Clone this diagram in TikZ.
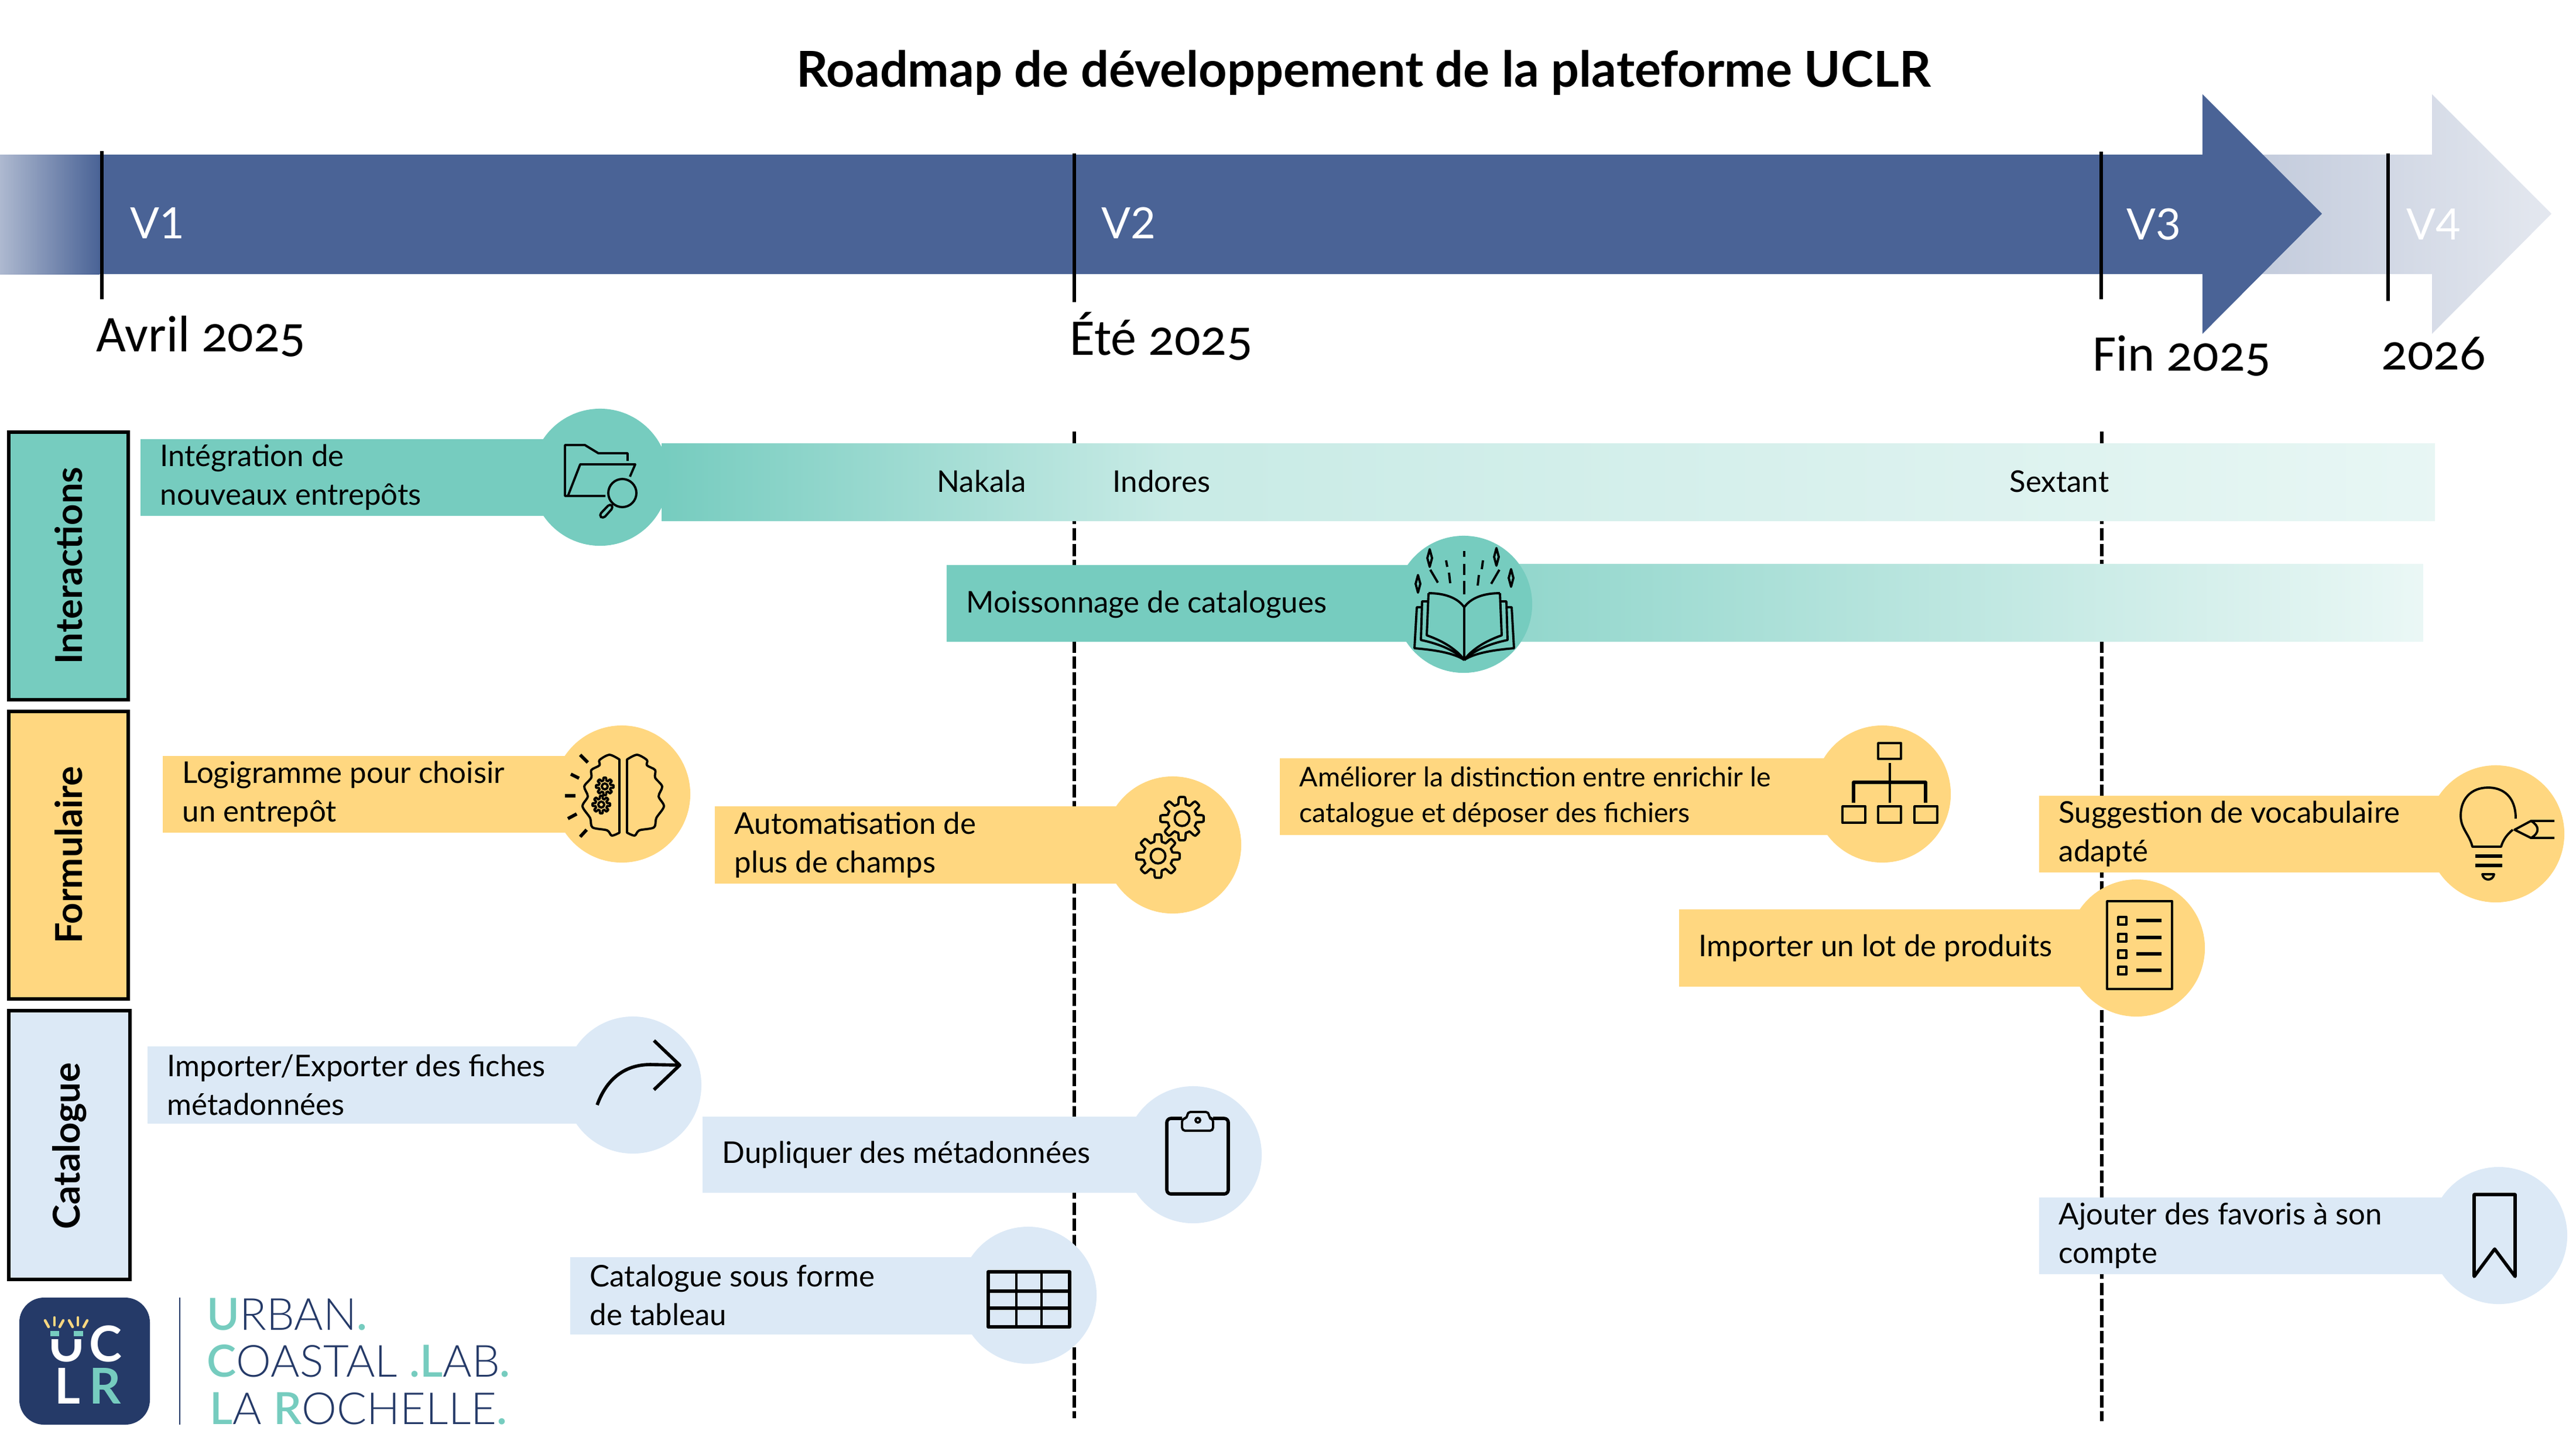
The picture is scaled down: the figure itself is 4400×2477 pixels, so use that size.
\documentclass[tikz,border=0pt]{standalone}
\usepackage{fontspec}
\setmainfont{Lato}
\newfontfamily\datefont[Numbers=OldStyle]{Carlito}
\newfontfamily\logofont{Lato Light}
\usetikzlibrary{arrows.meta,positioning}
\definecolor{roadblue}{HTML}{4A6396}
\definecolor{roadteal}{HTML}{76CCBF}
\definecolor{roadyellow}{HTML}{FFD780}
\definecolor{roadsky}{HTML}{DCE9F6}
\definecolor{logonavy}{HTML}{253A68}
\tikzset{
	catbox/.style={draw=black,line width=1.7pt},
	catlabel/.style={rotate=90,font=\bfseries\fontsize{18}{20}\selectfont},
	version/.style={anchor=west,text=white,font=\fontsize{21}{24}\selectfont},
	datelabel/.style={anchor=base west,font=\datefont\fontsize{25}{28}\selectfont},
	tick/.style={line width=1.9pt,black},
	milestone/.style={line width=1.8pt,dash pattern=on 6pt off 1.8pt},
	spot/.style={circle,minimum size=2.34cm,inner sep=0pt},
	tag/.style={anchor=west,align=left,inner sep=0pt,font=\fontsize{14.5}{18.7}\selectfont},
	icon/.style={line width=1.1pt,line join=round},
	iconbold/.style={line width=1.6pt,line join=round},
	gearicon/.pic={
		\draw [icon] plot [domain=0:360,samples=145] (\x:{#1*(0.84+0.16*max(-1,min(1,3*cos(8*\x))))}) -- cycle;
		\draw [icon] (0,0) circle (#1*0.34);
	},
}
\begin{document}
\begin{tikzpicture}[x=0.01cm,y=-0.01cm]
	\useasboundingbox (0,0) rectangle (4400,2477);
	% timeline
	\node (title) at (2329,124) {\bfseries\fontsize{24}{28}\selectfont Roadmap de développement de la plateforme UCLR};
	\shade [left color=roadblue!35!white,right color=roadblue!15!white] (3800,264) -- (4154,264) -- (4154,161) -- (4358,365) -- (4154,570) -- (4154,468) -- (3800,468) -- cycle;
	\shade [left color=roadblue!45!white,right color=roadblue] (0,264) rectangle (170,468);
	\fill [roadblue] (170,264) -- (3762,264) -- (3762,161) -- (3966,365) -- (3762,570) -- (3762,468) -- (170,468) -- cycle;
	\draw [tick] (174,258) -- (174,511);
	\draw [tick] (1835,262) -- (1835,516);
	\draw [tick] (3589,259) -- (3589,511);
	\draw [tick] (4079,262) -- (4079,514);
	\node (vone) [version] at (210,381) {V1};
	\node (vtwo) [version] at (1869,381) {V2};
	\node (vthree) [version] at (3620,383) {V3};
	\node (vfour) [version] at (4098,383) {V4};
	\node (avril) [datelabel] at (152,600) {Avril 2025};
	\node (ete) [datelabel] at (1815,606) {Été 2025};
	\node (fin) [datelabel] at (3562,633) {Fin 2025};
	\node (year) [datelabel] at (4055,631) {2026};
	\draw [milestone] (1835,737) -- (1835,2422);
	\draw [milestone] (3590,737) -- (3590,2427);
	% categories
	\draw [catbox,fill=roadteal] (15,738) rectangle (219,1195);
	\draw [catbox,fill=roadyellow] (15,1215) rectangle (219,1706);
	\draw [catbox,fill=roadsky] (15,1726) rectangle (222,2185);
	\node (interactions) [catlabel] at (117,966) {Interactions};
	\node (formulaire) [catlabel] at (117,1460) {Formulaire};
	\node (catalogue) [catlabel] at (119,1957) {Catalogue};
	% interactions
	\fill [roadteal] (240,750) rectangle (1025,881);
	\fill [left color=roadteal,right color=roadteal!40!white] (1130,757) rectangle (2000,889);
	\fill [left color=roadteal!40!white,right color=roadteal!17!white] (2000,757) rectangle (4159,889);
	\node (folderspot) [spot,fill=roadteal] at (1025,815) {};
	\node (integration) [tag] at (273,815) {Intégration de\\nouveaux entrepôts};
	\node (nakala) [tag] at (1600,822) {Nakala};
	\node (indores) [tag] at (1900,822) {Indores};
	\node (sextant) [tag] at (3432,822) {Sextant};
	\fill [left color=roadteal!83!white,right color=roadteal!15!white] (2500,963) rectangle (4139,1095);
	\fill [roadteal] (1617,965) rectangle (2500,1096);
	\node (bookspot) [spot,fill=roadteal] at (2500,1032) {};
	\node (moisson) [tag] at (1650,1032) {Moissonnage de catalogues};
	% formulaire
	\fill [roadyellow] (278,1291) rectangle (1060,1422);
	\node (brainspot) [spot,fill=roadyellow] at (1062,1356) {};
	\node (logigramme) [tag] at (311,1356) {Logigramme pour choisir\\un entrepôt};
	\fill [roadyellow] (1221,1377) rectangle (2003,1509);
	\node (gearspot) [spot,fill=roadyellow] at (2003,1443) {};
	\node (automatisation) [tag] at (1254,1443) {Automatisation de\\plus de champs};
	\fill [roadyellow] (2186,1295) rectangle (3215,1426);
	\node (treespot) [spot,fill=roadyellow] at (3215,1356) {};
	\node (ameliorer) [tag,font=\fontsize{13.2}{17.2}\selectfont] at (2219,1361) {Améliorer la distinction entre enrichir le\\catalogue et déposer des fichiers};
	\fill [roadyellow] (3483,1359) rectangle (4263,1490);
	\node (bulbspot) [spot,fill=roadyellow] at (4263,1424) {};
	\node (suggestion) [tag] at (3516,1424) {Suggestion de vocabulaire\\adapté};
	\fill [roadyellow] (2868,1553) rectangle (3649,1685);
	\node (listspot) [spot,fill=roadyellow] at (3649,1619) {};
	\node (importer) [tag] at (2901,1619) {Importer un lot de produits};
	% catalogue
	\fill [roadsky] (252,1787) rectangle (1081,1919);
	\node (arrowspot) [spot,fill=roadsky] at (1081,1853) {};
	\node (exporter) [tag] at (285,1853) {Importer/Exporter des fiches\\métadonnées};
	\fill [roadsky] (1200,1907) rectangle (2038,2037);
	\node (clipspot) [spot,fill=roadsky] at (2038,1972) {};
	\node (dupliquer) [tag] at (1233,1972) {Dupliquer des métadonnées};
	\fill [roadsky] (974,2147) rectangle (1756,2279);
	\node (tablespot) [spot,fill=roadsky] at (1756,2212) {};
	\node (tableau) [tag] at (1007,2212) {Catalogue sous forme\\de tableau};
	\fill [roadsky] (3483,2045) rectangle (4268,2176);
	\node (markspot) [spot,fill=roadsky] at (4268,2110) {};
	\node (favoris) [tag] at (3516,2110) {Ajouter des favoris à son\\compte};
	% folder icon
	\draw [icon] (1072,787) -- (1072,774) -- (1022,774) -- (999,760) -- (965,760) -- (965,847) -- (1034,847);
	\draw [icon] (1076,814) -- (1085,793) -- (991,793) -- (970,847);
	\draw [icon] (1063,842) circle (24);
	\draw [icon,rounded corners=1.5pt] (1042,860) -- (1048,866) -- (1030,886) -- (1023,880) -- cycle;
	% book icon
	\foreach \s in {-1,1} {
		\begin{scope}[shift={(2501,0)},xscale=\s]
			\draw [icon] (-61,1013) .. controls (-35,1013) and (-12,1020) .. (0,1037);
			\draw [icon] (-61,1013) -- (-64,1085) .. controls (-35,1095) and (-12,1110) .. (0,1127);
			\draw [icon] (-61,1027) -- (-72,1027) -- (-74,1093) .. controls (-40,1100) and (-15,1112) .. (0,1127);
			\draw [icon] (-72,1037) -- (-81,1037) -- (-85,1107) .. controls (-50,1110) and (-18,1115) .. (0,1127);
		\end{scope}
	}
	\draw [icon] (2501,1037) -- (2501,1127);
	\foreach \px/\py in {2442/953,2556/951,2422/997,2581/987} {
		\draw [icon] (\px,\py-15) -- (\px+4,\py) -- (\px,\py+15) -- (\px-4,\py) -- cycle;
	}
	\foreach \ax/\ay/\bx/\by in {2501/941/2501/951,2501/963/2501/982,2501/992/2501/1015,2470/957/2472/968,2533/957/2531/972,2443/973/2456/995,2475/978/2477/996,2526/982/2524/1000,2561/973/2547/997} {
		\draw [icon] (\ax,\ay) -- (\bx,\by);
	}
	% brain icon
	\foreach \s in {-1,1} {
		\begin{scope}[shift={(1064.5,0)},xscale=\s]
			\draw [icon] plot [smooth] coordinates {(-6.5,1297) (-23.5,1289) (-40.5,1298) (-40.5,1307) (-54.5,1315) (-54.5,1328) (-66.5,1343) (-60.5,1360) (-69.5,1377) (-56.5,1397) (-52.5,1413) (-27.5,1418) (-19.5,1427) (-6.5,1422)} -- cycle;
		\end{scope}
	}
	\foreach \ax/\ay/\bx/\by in {991/1289/1004/1302,975/1322/989/1329,965/1359/983/1359,970/1398/985/1390,991/1429/1002/1417} {
		\draw [iconbold] (\ax,\ay) -- (\bx,\by);
	}
	\pic at (1033,1343) {gearicon=15};
	\pic at (1027,1374) {gearicon=15};
	% gears icon
	\pic at (2019,1398) {gearicon=37};
	\pic at (1978,1462) {gearicon=37};
	% tree icon
	\draw [icon] (3208,1269) rectangle (3247,1296);
	\draw [icon] (3228,1303) -- (3228,1371);
	\draw [iconbold] (3166,1371) -- (3166,1336) -- (3289,1336) -- (3289,1371);
	\foreach \px in {3147,3208,3270} {
		\draw [icon] (\px,1377) rectangle (\px+39,1405);
	}
	% bulb icon
	\draw [icon] (4297,1398) .. controls (4297,1360) and (4275,1345) .. (4250,1345) .. controls (4220,1345) and (4203,1365) .. (4203,1393) .. controls (4203,1415) and (4218,1425) .. (4223,1446) -- (4272,1446) .. controls (4275,1435) and (4282,1425) .. (4292,1417);
	\draw [iconbold] (4228,1462) -- (4274,1462);
	\draw [iconbold] (4228,1478) -- (4274,1478);
	\draw [icon] (4240,1493) -- (4260,1493) .. controls (4258,1505) and (4242,1505) .. (4240,1493) -- cycle;
	\draw [icon] (4363,1402) -- (4323,1402) -- (4295,1417) -- (4323,1431) -- (4363,1431);
	\draw [icon] (4323,1402) .. controls (4338,1410) and (4338,1423) .. (4323,1431);
	% list icon
	\draw [icon] (3599,1539) rectangle (3710,1689);
	\foreach \py in {1572,1601,1629,1657} {
		\draw [icon] (3618,\py-6) rectangle (3632,\py+7);
		\draw [iconbold] (3649,\py) -- (3692,\py);
	}
	% arrow icon
	\draw [iconbold] (1020,1887) .. controls (1035,1845) and (1065,1818) .. (1111,1818) -- (1161,1819);
	\draw [iconbold] (1117,1777) -- (1161,1819) -- (1117,1861);
	% clipboard icon
	\draw [iconbold,rounded corners=2pt] (2019,1910) -- (1993,1910) -- (1993,2039) -- (2098,2039) -- (2098,1910) -- (2072,1910);
	\draw [icon,rounded corners=1.5pt] (2019,1931) -- (2019,1910) -- (2028,1910) -- (2028,1899) -- (2065,1899) -- (2065,1910) -- (2072,1910) -- (2072,1931) -- cycle;
	\draw [icon] (2046,1913) circle (4);
	% table icon
	\draw [iconbold] (1688,2172) rectangle (1827,2266);
	\draw [icon] (1736,2172) -- (1736,2266);
	\draw [icon] (1779,2172) -- (1779,2266);
	\draw [iconbold] (1688,2205) -- (1827,2205);
	\draw [iconbold] (1688,2234) -- (1827,2234);
	% bookmark icon
	\draw [iconbold] (4226,2040) -- (4296,2040) -- (4296,2180) -- (4261,2133) -- (4226,2180) -- cycle;
	% logo
	\fill [logonavy,rounded corners=12pt] (33,2216) rectangle (256,2433);
	\node (logou) [anchor=base,inner sep=0pt,text=white,font=\bfseries\fontsize{24}{24}\selectfont] at (114,2325) {U};
	\fill [logonavy] (80,2258) rectangle (148,2287);
	\fill [roadteal] (86,2273) rectangle (101,2282);
	\fill [roadteal] (126,2273) rectangle (142,2282);
	\node (logoc) [anchor=base,inner sep=0pt,text=white,font=\bfseries\fontsize{24}{24}\selectfont] at (180,2325) {C};
	\node (logol) [anchor=base,inner sep=0pt,text=white,font=\bfseries\fontsize{24}{24}\selectfont] at (115,2397) {L};
	\node (logor) [anchor=base,inner sep=0pt,text=roadteal,font=\bfseries\fontsize{24}{24}\selectfont] at (180,2397) {R};
	\foreach \ax/\ay/\bx/\by in {77/2255/83/2266,93/2250/93/2263,108/2255/102/2266,118/2255/124/2266,133/2250/133/2263,149/2255/143/2266} {
		\draw [roadyellow,line width=1.3pt,line cap=round] (\ax,\ay) -- (\bx,\by);
	}
	\draw [logonavy,line width=0.4pt] (307,2216) -- (307,2433);
	\node (logoone) [anchor=base west,inner sep=0pt,text=logonavy,font=\logofont\fontsize{21.5}{24}\selectfont] at (353,2271) {\textcolor{roadteal}{\bfseries U}RBAN\textcolor{roadteal}{\bfseries .}};
	\node (logotwo) [anchor=base west,inner sep=0pt,text=logonavy,font=\logofont\fontsize{21.5}{24}\selectfont] at (353,2351) {\textcolor{roadteal}{\bfseries C}OASTAL \textcolor{roadteal}{\bfseries .L}AB\textcolor{roadteal}{\bfseries .}};
	\node (logothree) [anchor=base west,inner sep=0pt,text=logonavy,font=\logofont\fontsize{21.5}{24}\selectfont] at (358,2432) {\textcolor{roadteal}{\bfseries L}A \textcolor{roadteal}{\bfseries R}OCHELLE\textcolor{roadteal}{\bfseries .}};
\end{tikzpicture}
\end{document}
